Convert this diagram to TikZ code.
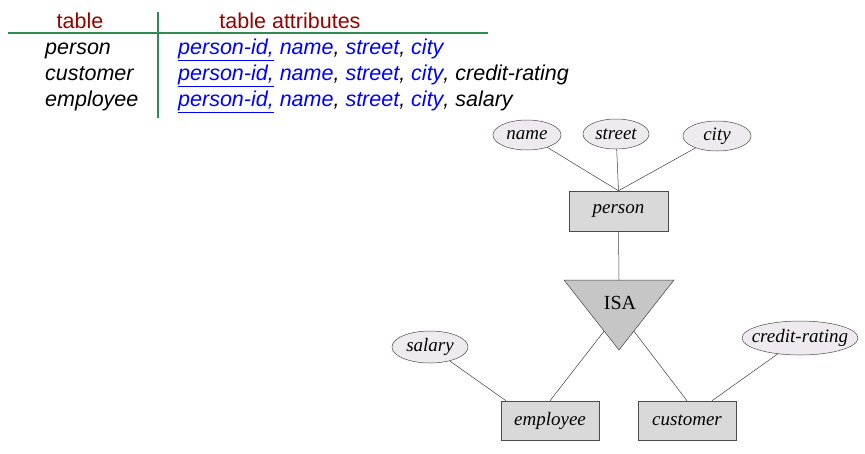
\documentclass[tikz,border=0pt]{standalone}
\usepackage{fontspec}
\newfontfamily\arialfont{Liberation Sans}
\newfontfamily\erfont{Liberation Serif}
\usetikzlibrary{shapes.geometric,calc}
\definecolor{hdr}{HTML}{990000}
\definecolor{rule}{HTML}{2E8B57}
\definecolor{att}{HTML}{0000FF}
\definecolor{ellfill}{HTML}{EFEAEF}
\definecolor{boxfill}{HTML}{D9D9D9}
\definecolor{isafill}{HTML}{C6C6C6}
\tikzset{
  hd/.style={font=\arialfont\fontsize{21.5}{24}\selectfont, text=hdr, anchor=base},
  tb/.style={font=\arialfont\itshape\fontsize{21.5}{24}\selectfont, anchor=base west, inner sep=0},
  attr/.style={ellipse, draw=black!70, fill=ellfill, line width=0.5pt, inner sep=0,
     font=\erfont\itshape\fontsize{19}{21}\selectfont},
  ent/.style={rectangle, draw=black!70, fill=boxfill, line width=0.5pt, minimum width=98, minimum height=39,
     font=\erfont\itshape\fontsize{19}{21}\selectfont},
  lk/.style={draw=black!75, line width=0.5pt},
}
\begin{document}
\begin{tikzpicture}[x=1pt,y=-1pt]
\useasboundingbox[fill=white] (0,0) rectangle (865,453);
% table
\node[hd] (h1) at (80,28) {table};
\node[hd] (h2) at (290,28) {table attributes};
\draw[rule, line width=1.5pt] (8,33) -- (488,33);
\draw[rule, line width=1.5pt] (158,12) -- (158,118);
\node[tb] (r1) at (45,54) {person};
\node[tb] (r2) at (45,80) {customer};
\node[tb] (r3) at (45,106) {employee};
\node[tb] (a1) at (178,54) {\color{att}\underline{person-id,} name\color{black}, \color{att}street\color{black}, \color{att}city};
\node[tb] (a2) at (178,80) {\color{att}\underline{person-id,} name\color{black}, \color{att}street\color{black}, \color{att}city\color{black}, credit-rating};
\node[tb] (a3) at (178,106) {\color{att}\underline{person-id,} name\color{black}, \color{att}street\color{black}, \color{att}city\color{black}, salary};
% ER diagram
\node[attr, minimum width=68, minimum height=30] (name) at (527,135) {name};
\node[attr, minimum width=66, minimum height=30] (street) at (616,134) {street};
\node[attr, minimum width=68, minimum height=30] (city) at (717,136) {city};
\node[ent, minimum width=99, minimum height=40] (person) at (618.5,211) {person};
\draw[lk] (name) -- (person.north);
\draw[lk] (street) -- (person.north);
\draw[lk] (city) -- (person.north);
\draw[lk, fill=isafill] (564,280) coordinate (isaTL) -- (674,280) coordinate (isaTR) -- (619,350) coordinate (isaB) -- cycle;
\coordinate (isaTop) at (619,280);
\coordinate (isaL) at ($(isaTL)!0.73!(isaB)$);
\coordinate (isaR) at ($(isaTR)!0.73!(isaB)$);
\node[font=\erfont\fontsize{20}{22}\selectfont] (isa) at (620,303) {ISA};
\draw[lk] (person.south) -- (isaTop);
\node[ent] (employee) at (550,420.5) {employee};
\node[ent] (customer) at (687,420.5) {customer};
\node[attr, minimum width=76, minimum height=32] (salary) at (430,347) {salary};
\node[attr, inner xsep=-7.5pt, minimum width=116, minimum height=34] (credit) at (800,338) {credit-rating};
\draw[lk] (isaL) -- (employee.north);
\draw[lk] (isaR) -- (customer.north);
\draw[lk] (salary) -- ([xshift=-44]employee.north);
\draw[lk] (credit) -- ([xshift=25]customer.north);
\end{tikzpicture}
\end{document}
